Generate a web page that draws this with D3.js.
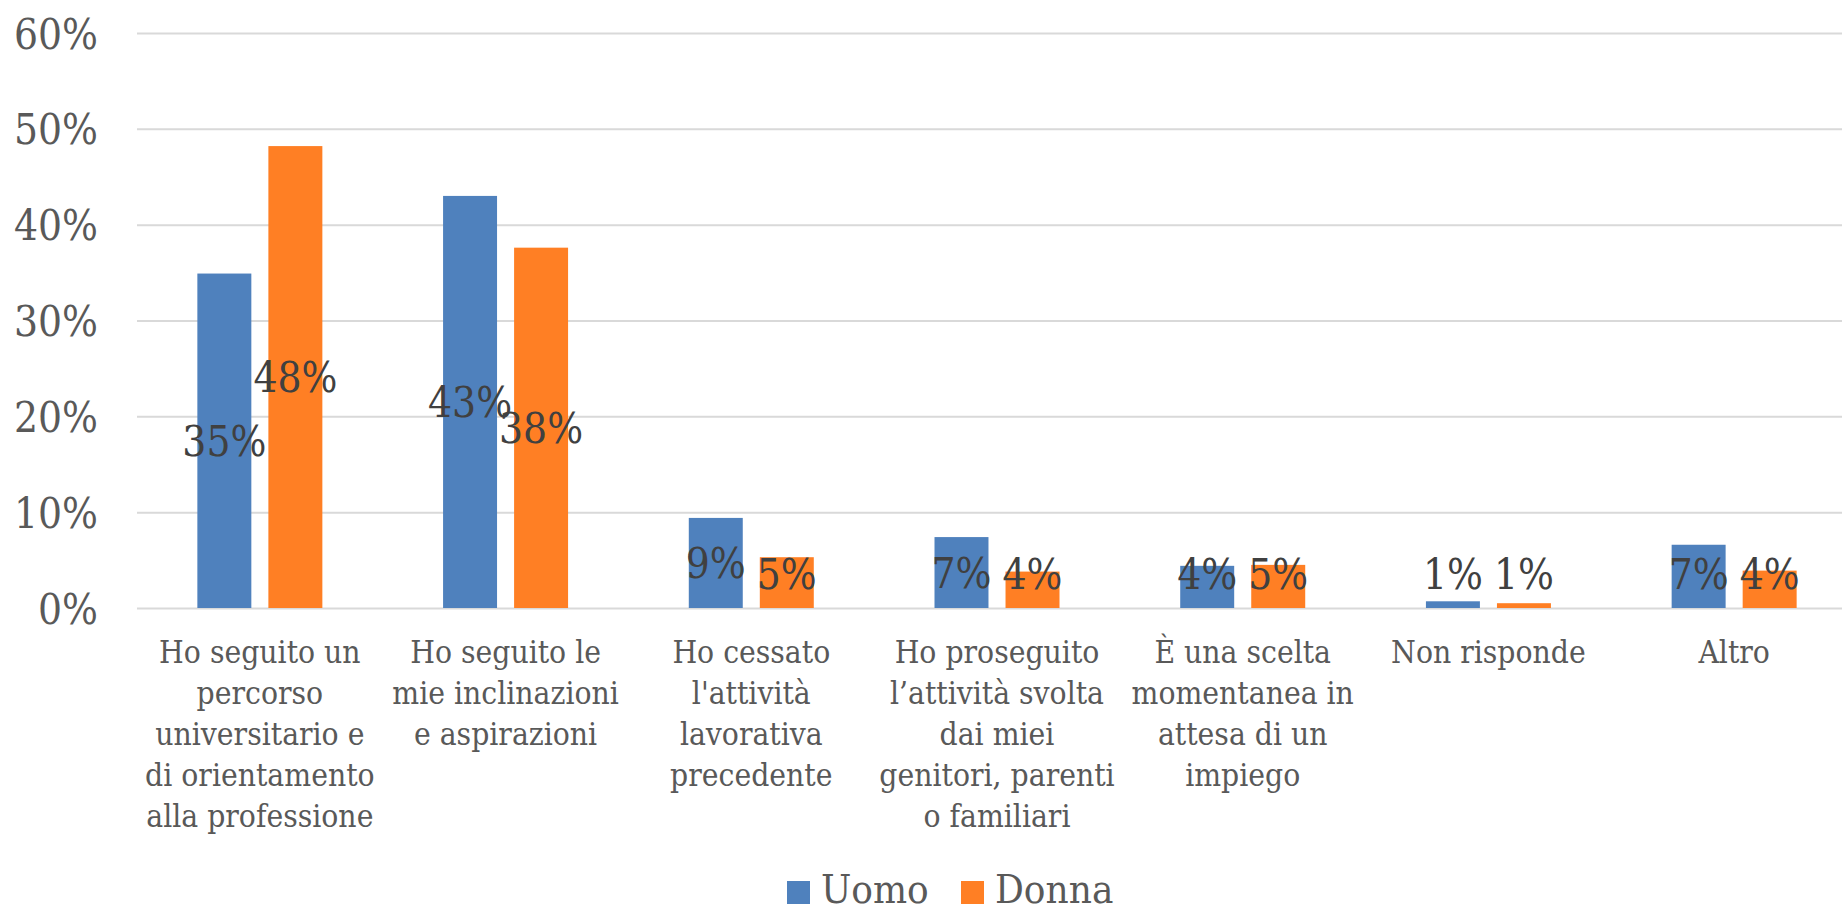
<!DOCTYPE html>
<html lang="it">
  <head>
    <meta charset="utf-8">
    <title>Motivazioni per genere</title>
    <script src="https://d3js.org/d3.v7.min.js"></script>
    <style>
      body { margin: 0; background: #ffffff; }
      svg text { font-family: "DejaVu Serif Condensed", "DejaVu Serif", serif; font-stretch: condensed; }
      .grid line { stroke: #d9d9d9; stroke-width: 2; }
      .grid text { fill: #595959; font-size: 42px; }
      .catLabel { fill: #595959; font-size: 31.5px; }
      .barLabel { fill: #404040; font-size: 42px; }
      .legendText { fill: #595959; font-size: 40px; }
    </style>
  </head>
  <body>
    <div id="chart"></div>
    <script>

      // categorie (righe dell'etichetta) e serie
      var categories = [
        ["Ho seguito un", "percorso", "universitario e", "di orientamento", "alla professione"],
        ["Ho seguito le", "mie inclinazioni", "e aspirazioni"],
        ["Ho cessato", "l'attività", "lavorativa", "precedente"],
        ["Ho proseguito", "l’attività svolta", "dai miei", "genitori, parenti", "o familiari"],
        ["È una scelta", "momentanea in", "attesa di un", "impiego"],
        ["Non risponde"],
        ["Altro"]
      ];
      var series = ["Uomo", "Donna"];
      var uomo  = [0.349, 0.430, 0.094, 0.074, 0.044, 0.007, 0.066];
      var donna = [0.482, 0.376, 0.053, 0.038, 0.045, 0.005, 0.039];
      var uomoLabels  = ["35%", "43%", "9%", "7%", "4%", "1%", "7%"];
      var donnaLabels = ["48%", "38%", "5%", "4%", "5%", "1%", "4%"];
      var yTicks = [0, 0.1, 0.2, 0.3, 0.4, 0.5, 0.6];
      var colors = ["#4f81bd", "#ff7f24"];

      var width = 1842;
      var height = 914;
      var margin = {top: 33, left: 137, right: -15, bottom: 306};

      var svg = d3.select("#chart")
        .append("svg")
        .attr("width", width)
        .attr("height", height);

      var x0 = d3.scaleBand()
        .domain(d3.range(categories.length))
        .range([margin.left, width - margin.right]);

      var x1 = d3.scaleBand()
        .domain(series)
        .range([(x0.bandwidth() - 125) / 2, (x0.bandwidth() + 125) / 2])
        .paddingInner(0.24);

      var yScale = d3.scaleLinear()
        .domain([0, 0.6])
        .range([height - margin.bottom, margin.top]);

      // griglia + etichette asse y
      var yAxis = svg.append("g")
        .attr("class", "grid")
        .attr("transform", `translate(${margin.left},0)`)
        .call(d3.axisLeft(yScale)
          .tickValues(yTicks)
          .tickFormat(d3.format(".0%"))
          .tickSize(-(width - margin.left - margin.right))
          .tickPadding(39));
      yAxis.select(".domain").remove();
      yAxis.selectAll("text").attr("dy", "0.36em");

      // barre
      var rows = categories.map(function(c, i){
        return [
          {cat: i, s: "Uomo", v: uomo[i], label: uomoLabels[i]},
          {cat: i, s: "Donna", v: donna[i], label: donnaLabels[i]}
        ];
      });

      var groups = svg.selectAll(".group")
        .data(rows)
        .enter()
        .append("g")
        .attr("class", "group")
        .attr("transform", function(d, i){ return `translate(${x0(i)},0)`; });

      groups.selectAll("rect")
        .data(function(d){ return d; })
        .enter()
        .append("rect")
        .attr("x", function(d){ return x1(d.s); })
        .attr("y", function(d){ return yScale(d.v); })
        .attr("width", x1.bandwidth())
        .attr("height", function(d){ return yScale(0) - yScale(d.v); })
        .attr("fill", function(d){ return colors[series.indexOf(d.s)]; });

      // etichette dati, centrate nella barra ma tenute dentro l'area
      groups.selectAll(".barLabel")
        .data(function(d){ return d; })
        .enter()
        .append("text")
        .attr("class", "barLabel")
        .attr("text-anchor", "middle")
        .attr("x", function(d){ return x1(d.s) + x1.bandwidth() / 2; })
        .attr("y", function(d){
          var mid = (yScale(d.v) + yScale(0)) / 2 + 15;
          return Math.min(mid, yScale(0) - 19);
        })
        .text(function(d){ return d.label; });

      // etichette categorie
      var catText = svg.selectAll(".catLabel")
        .data(categories)
        .enter()
        .append("text")
        .attr("class", "catLabel")
        .attr("text-anchor", "middle")
        .attr("x", function(d, i){ return x0(i) + x0.bandwidth() / 2; })
        .attr("y", 663);

      catText.selectAll("tspan")
        .data(function(d){ return d; })
        .enter()
        .append("tspan")
        .attr("x", function(){ return d3.select(this.parentNode).attr("x"); })
        .attr("dy", function(d, i){ return i == 0 ? 0 : 41; })
        .text(function(d){ return d; });

      // legenda
      var legend = svg.append("g")
        .attr("transform", "translate(787,881)");

      var legendX = [0, 174];
      series.forEach(function(s, i){
        legend.append("rect")
          .attr("x", legendX[i])
          .attr("y", 0)
          .attr("width", 23)
          .attr("height", 23)
          .attr("fill", colors[i]);
        legend.append("text")
          .attr("class", "legendText")
          .attr("x", legendX[i] + 34)
          .attr("y", 22)
          .text(s);
      });

    </script>
  </body>
</html>
